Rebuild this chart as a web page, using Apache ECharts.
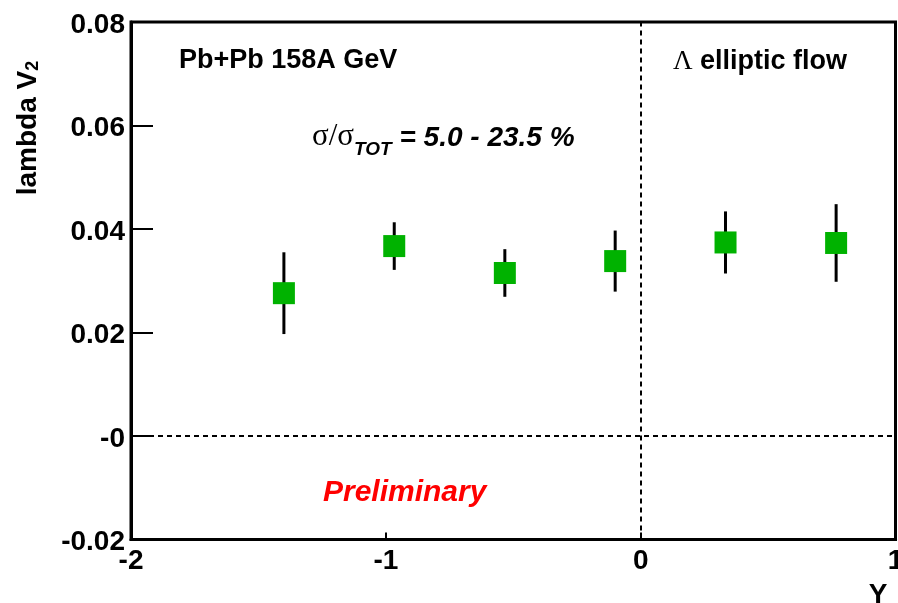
<!DOCTYPE html>
<html>
<head>
<meta charset="utf-8">
<script src="https://cdn.jsdelivr.net/npm/echarts@6/dist/echarts.min.js"></script>
<style>
  html, body { margin: 0; padding: 0; background: #fff; }
  #chart { width: 898px; height: 603px; }
</style>
</head>
<body>
<div id="chart"></div>
<script>
// lambda v2 vs rapidity, Pb+Pb 158A GeV
const rapidity = [-1.4, -0.967, -0.533, -0.1, 0.333, 0.767]
const v2 = [0.0276, 0.0367, 0.0315, 0.0338, 0.0374, 0.0373]
const v2Err = [0.0079, 0.0046, 0.0046, 0.0059, 0.0060, 0.0075]

const xMin = -2, xMax = 1, xStep = 1
const yMin = -0.02, yMax = 0.08, yStep = 0.02
const xTickLabels = ['-2', '-1', '0', '1']
const yTickLabels = ['-0.02', '-0', '0.02', '0.04', '0.06', '0.08']

const SANS = '"Liberation Sans", Arial, sans-serif'
const SERIF = '"Liberation Serif", "Times New Roman", serif'
const MARKER_COLOR = '#00b200'

const points = rapidity.map((x, i) => [x, v2[i], v2Err[i]])

const chart = echarts.init(document.getElementById('chart'))

const option = {
  animation: false,
  backgroundColor: '#fff',
  grid: {
    left: 131,
    right: 2.5,
    top: 22,
    bottom: 63.5,
    show: true,
    borderColor: '#000',
    borderWidth: 3,
    outerBoundsMode: 'none'
  },
  xAxis: {
    type: 'value',
    min: xMin,
    max: xMax,
    interval: xStep,
    name: 'Y',
    nameLocation: 'end',
    nameGap: 0,
    nameTextStyle: {
      color: '#000',
      fontFamily: SANS,
      fontWeight: 'bold',
      fontSize: 28,
      align: 'right',
      verticalAlign: 'top',
      padding: [42, 8, 0, 0]
    },
    axisLine: { show: true, onZero: false, lineStyle: { color: '#000', width: 3 } },
    axisTick: { show: true, inside: true, length: 7, lineStyle: { color: '#000', width: 2 } },
    axisLabel: {
      color: '#000',
      fontFamily: SANS,
      fontWeight: 'bold',
      fontSize: 28,
      margin: 8,
      formatter: (v) => xTickLabels[Math.round((v - xMin) / xStep)]
    },
    splitLine: { show: false }
  },
  yAxis: {
    type: 'value',
    min: yMin,
    max: yMax,
    interval: yStep,
    axisLine: { show: true, onZero: false, lineStyle: { color: '#000', width: 3 } },
    axisTick: { show: true, inside: true, length: 22, lineStyle: { color: '#000', width: 2 } },
    axisLabel: {
      color: '#000',
      fontFamily: SANS,
      fontWeight: 'bold',
      fontSize: 28,
      margin: 6,
      verticalAlign: 'top',
      lineHeight: 6,
      formatter: (v) => yTickLabels[Math.round((v - yMin) / yStep)]
    },
    splitLine: { show: false }
  },
  graphic: [
    {
      type: 'text',
      x: 28,
      y: 128,
      rotation: Math.PI / 2,
      style: {
        text: '{a|lambda V}{s|2}',
        align: 'center',
        verticalAlign: 'middle',
        rich: {
          a: { fontFamily: SANS, fontWeight: 'bold', fontSize: 28, lineHeight: 28, verticalAlign: 'bottom', fill: '#000' },
          s: { fontFamily: SANS, fontWeight: 'bold', fontSize: 18, lineHeight: 18, verticalAlign: 'bottom', fill: '#000' }
        }
      }
    },
    {
      type: 'text',
      x: 179,
      y: 61,
      style: {
        text: 'Pb+Pb 158A GeV',
        fontFamily: SANS,
        fontWeight: 'bold',
        fontSize: 27,
        fill: '#000',
        align: 'left',
        verticalAlign: 'middle'
      }
    },
    {
      type: 'text',
      x: 673,
      y: 62,
      style: {
        text: '{g|Λ}{b| elliptic flow}',
        align: 'left',
        verticalAlign: 'middle',
        rich: {
          g: { fontFamily: SERIF, fontSize: 27, fill: '#000' },
          b: { fontFamily: SANS, fontWeight: 'bold', fontSize: 27, fill: '#000' }
        }
      }
    },
    {
      type: 'text',
      x: 312,
      y: 145,
      style: {
        text: '{g|σ/σ}{s|TOT}{b| = 5.0 - 23.5 %}',
        align: 'left',
        verticalAlign: 'middle',
        rich: {
          g: { fontFamily: SERIF, fontSize: 31, lineHeight: 28, padding: [0, 0, 7, 0], verticalAlign: 'bottom', fill: '#000' },
          s: { fontFamily: SANS, fontWeight: 'bold', fontStyle: 'italic', fontSize: 19, lineHeight: 19, verticalAlign: 'bottom', fill: '#000' },
          b: { fontFamily: SANS, fontWeight: 'bold', fontStyle: 'italic', fontSize: 28, lineHeight: 28, padding: [0, 0, 7, 0], verticalAlign: 'bottom', fill: '#000' }
        }
      }
    },
    {
      type: 'text',
      x: 323,
      y: 493,
      style: {
        text: 'Preliminary',
        fontFamily: SANS,
        fontWeight: 'bold',
        fontStyle: 'italic',
        fontSize: 30,
        fill: '#ff0000',
        align: 'left',
        verticalAlign: 'middle'
      }
    }
  ],
  series: [
    {
      name: 'errors',
      type: 'custom',
      data: points,
      encode: { x: 0, y: 1 },
      z: 2,
      renderItem: (params, api) => {
        const x = api.value(0)
        const y = api.value(1)
        const e = api.value(2)
        const lo = api.coord([x, y - e])
        const hi = api.coord([x, y + e])
        return {
          type: 'line',
          shape: { x1: lo[0], y1: lo[1], x2: hi[0], y2: hi[1] },
          style: { stroke: '#000', lineWidth: 3 }
        }
      }
    },
    {
      name: 'lambda v2',
      type: 'scatter',
      data: points,
      symbol: 'rect',
      symbolSize: 22,
      z: 3,
      itemStyle: { color: MARKER_COLOR, opacity: 1 },
      markLine: {
        silent: true,
        symbol: ['none', 'none'],
        label: { show: false },
        lineStyle: { color: '#000', width: 2, type: [5, 4] },
        data: [{ xAxis: 0 }, { yAxis: 0 }]
      }
    }
  ]
}

chart.setOption(option)
</script>
</body>
</html>
